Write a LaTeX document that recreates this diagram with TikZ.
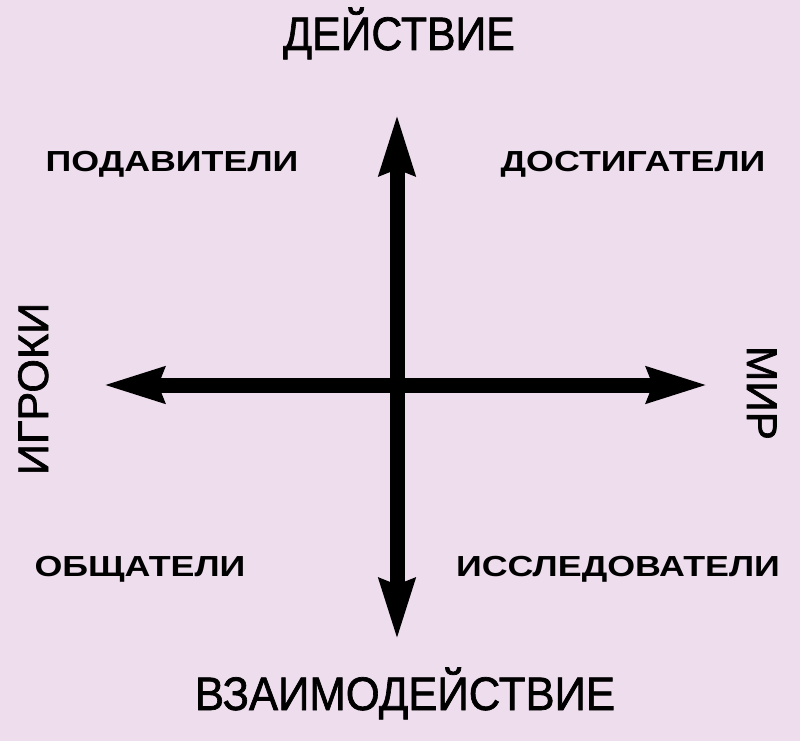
\documentclass[tikz,border=0pt]{standalone}
\usepackage{fontspec}
\setmainfont{Liberation Sans}
\newfontfamily\polefont[FakeBold=1.5]{Liberation Sans}
\usetikzlibrary{arrows.meta,positioning}
\definecolor{bgpink}{RGB}{237,221,237}

\begin{document}
\begin{tikzpicture}[x=1pt,y=-1pt,
	axis/.style={line width=15pt,{Stealth[length=60pt,width=34pt,inset=5pt]}-{Stealth[length=60pt,width=34pt,inset=5pt]}},
	bigword/.style={inner sep=0pt,anchor=base,xscale=0.91,font=\polefont\fontsize{47}{47}\selectfont},
	kind/.style={inner sep=0pt,anchor=base,xscale=1.235,font=\bfseries\fontsize{29}{29}\selectfont}]
	\fill[bgpink] (0,0) rectangle (800,741);
	\useasboundingbox (0,0) rectangle (800,741);
	% axes
	\coordinate (n) at (397,114);
	\coordinate (s) at (397,640);
	\coordinate (w) at (103,385);
	\coordinate (e) at (708,385);
	\path[axis] 
	(w) edge (e)
	(n) edge (s);
	% poles
	\node[bigword] (act) at (399,50) {ДЕЙСТВИЕ};
	\node[bigword,xscale=1.02] (inter) at (405,710) {ВЗАИМОДЕЙСТВИЕ};
	\node[bigword,rotate=90,xscale=0.92] (players) at (48,389) {ИГРОКИ};
	\node[bigword,rotate=-90,xscale=0.9] (world) at (747,393) {МИР};
	% player types
	\node[kind] (killers) at (172,171) {ПОДАВИТЕЛИ};
	\node[kind] (achievers) at (633,171) {ДОСТИГАТЕЛИ};
	\node[kind] (socializers) at (140,576) {ОБЩАТЕЛИ};
	\node[kind] (explorers) at (618,576) {ИССЛЕДОВАТЕЛИ};
\end{tikzpicture}
\end{document}
